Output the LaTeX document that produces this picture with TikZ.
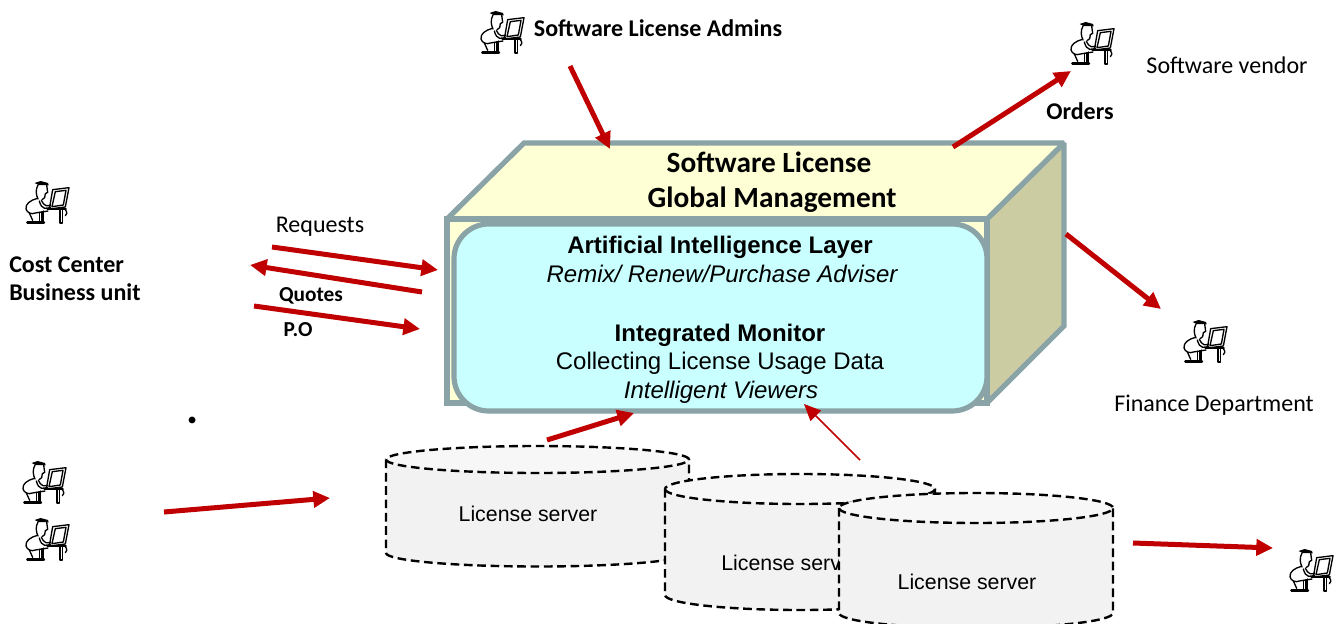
\documentclass[tikz,border=0pt]{standalone}
\usepackage{fontspec}
\setmainfont{Carlito}
\newfontfamily\arialf{Liberation Sans}
\usetikzlibrary{arrows.meta}
\definecolor{arrowred}{HTML}{C00000}
\definecolor{boxline}{HTML}{8AA3A6}
\definecolor{boxcream}{HTML}{FFFFD5}
\definecolor{boxside}{HTML}{CCCCA3}
\definecolor{boxcyan}{HTML}{C9FFFF}
\definecolor{cylbody}{HTML}{F2F2F2}
\definecolor{cyltop}{HTML}{F7F7F7}
\tikzset{
  flow/.style={draw=arrowred,line width=3.75pt,-{Triangle[length=12.5pt,width=12pt]}},
  thinflow/.style={draw=arrowred,line width=1.1pt,-{Triangle[length=12.5pt,width=11pt]}},
  boxface/.style={draw=boxline,line width=3.9pt,line join=miter,miter limit=2},
  cylline/.style={draw=black,line width=1.8pt,dash pattern=on 6.5pt off 3.5pt},
  lab/.style={anchor=base,inner sep=0pt,font=\fontsize{18pt}{18pt}\selectfont},
  labb/.style={lab,font=\fontsize{18pt}{18pt}\selectfont\bfseries},
  labs/.style={lab,font=\fontsize{16pt}{16pt}\selectfont\bfseries},
  labt/.style={lab,font=\fontsize{22pt}{22pt}\selectfont\bfseries},
  labdot/.style={lab,font=\fontsize{34pt}{34pt}\selectfont\bfseries},
  ar/.style={lab,font=\arialf\fontsize{18pt}{18pt}\selectfont},
  arb/.style={lab,font=\arialf\fontsize{18pt}{18pt}\selectfont\bfseries},
  ari/.style={lab,font=\arialf\fontsize{18pt}{18pt}\selectfont\itshape},
  srv/.style={lab,font=\arialf\fontsize{16pt}{16pt}\selectfont},
  person/.pic={
    \begin{scope}[x=.25pt,y=-.25pt,shift={(-95,-100)},line width=1pt,line join=round,line cap=round]
      \fill (58,40) -- (76,34) -- (98,40) -- (100,47) -- (70,46) -- cycle;
      \draw (68,46) .. controls (60,60) and (62,76) .. (68,88);
      \draw (94,46) -- (97,68) -- (90,72) -- (88,84) -- (80,90);
      \draw (66,86) .. controls (45,92) and (30,102) .. (32,118) .. controls (35,130) and (50,135) .. (60,130) -- (98,124);
      \draw (72,94) .. controls (76,108) and (80,114) .. (88,116) -- (106,114);
      \draw (78,92) .. controls (82,100) and (86,106) .. (92,108) -- (106,108);
      \draw (42,130) -- (52,152);
      \draw (72,128) -- (72,158) (80,126) -- (80,158) (85,124) -- (85,158);
      \draw[line width=1.8pt] (36,158) -- (86,158);
      \draw[line width=1.4pt] (96,118) -- (152,118);
      \draw (134,120) -- (134,160) (141,120) -- (141,160) (134,160) -- (141,160);
      \draw (112,60) -- (161,54) -- (150,112) -- (102,118) -- cycle;
      \draw (120,66) -- (152,62) -- (144,106) -- (110,111) -- cycle;
      \draw (150,120) .. controls (156,128) and (156,134) .. (150,138);
    \end{scope}
  }
}
% left, right, centre y of top ellipse, ry, y where sides end
\newcommand{\cylshape}[5]{%
  \pgfmathsetmacro{\rxx}{(#2-#1)/2}%
  \fill[cylbody] (#1,#3) -- (#1,#5) arc[start angle=180,end angle=0,x radius=\rxx,y radius=#4] -- (#2,#3) -- cycle;
  \fill[cyltop] (#1,#3) arc[start angle=180,end angle=-180,x radius=\rxx,y radius=#4];
  \draw[cylline] (#1,#3) -- (#1,#5) arc[start angle=180,end angle=0,x radius=\rxx,y radius=#4] -- (#2,#3);
  \draw[cylline] (#1,#3) arc[start angle=180,end angle=-180,x radius=\rxx,y radius=#4];
}
\begin{document}
\begin{tikzpicture}[x=.75pt,y=-.75pt]
\clip (0,0) rectangle (1335,624);
\fill[white] (0,0) rectangle (1335,624);

% 3D box
\draw[boxface,fill=boxside] (987,219) -- (1064,143) -- (1064,326) -- (987,403) -- cycle;
\draw[boxface,fill=boxcream] (447,219) -- (524,143) -- (1064,143) -- (987,219) -- cycle;
\draw[boxface,fill=boxcream] (447,219) rectangle (987,403);
\draw[boxface,fill=boxcyan,rounded corners=26pt] (454,224) rectangle (987,411);
\node[labt] (title1) at (769,173) {Software License};
\node[labt] (title2) at (772,208) {Global Management};
\node[arb] (ai) at (720,253) {Artificial Intelligence Layer};
\node[ari] (remix) at (722,282) {Remix/ Renew/Purchase Adviser};
\node[arb] (mon) at (720,341) {Integrated Monitor};
\node[ar] (coll) at (720,369) {Collecting License Usage Data};
\node[ari] (view) at (721,398) {Intelligent Viewers};

% cylinders
\cylshape{386}{689}{459.5}{13.5}{553}
\node[srv] (srv1) at (528,521) {License server};
\cylshape{665}{935}{489}{15}{595}
\node[srv,anchor=base west] (srv2) at (721,570) {License server};
\cylshape{839}{1113}{508}{15}{613}
\node[srv] (srv3) at (967,589) {License server};

% people
\pic at (502,33) {person};
\pic at (1092,44) {person};
\pic at (47,203) {person};
\pic at (1205,342) {person};
\pic at (44,483) {person};
\pic at (47,540) {person};
\pic at (1311,571) {person};

% labels
\node[labb] (admins) at (658,37) {Software License Admins};
\node[lab] (vendor) at (1227,74) {Software vendor};
\node[labb] (orders) at (1080,120) {Orders};
\node[lab] (fin) at (1214,411) {Finance Department};
\node[lab] (req) at (320,232.5) {Requests};
\node[labs] (quotes) at (311,301) {Quotes};
\node[labs] (po) at (298,336) {P.O};
\node[labb,anchor=base west] (cc) at (9,272) {Cost Center};
\node[labb,anchor=base west] (bu) at (9,300) {Business unit};
\node[labdot] (dot) at (193,423.5) {.};

% connector ends
\coordinate (a1) at (570,66);   \coordinate (a2) at (610,149);
\coordinate (o1) at (953,147);  \coordinate (o2) at (1071,71);
\coordinate (f1) at (1066,234); \coordinate (f2) at (1161,309);
\coordinate (r1) at (272,247);  \coordinate (r2) at (438,270);
\coordinate (q1) at (422,292);  \coordinate (q2) at (250,265);
\coordinate (p1) at (254,306);  \coordinate (p2) at (420,329);
\coordinate (s1) at (547,440);  \coordinate (s2) at (634,413);
\coordinate (t1) at (860,460);  \coordinate (t2) at (804,404);
\coordinate (l1) at (164,512);  \coordinate (l2) at (330,498);
\coordinate (b1) at (1133,543); \coordinate (b2) at (1273,548);

\draw[flow] (a1) -- (a2);
\draw[flow] (o1) -- (o2);
\draw[flow] (f1) -- (f2);
\draw[flow] (r1) -- (r2);
\draw[flow] (q1) -- (q2);
\draw[flow] (p1) -- (p2);
\draw[flow] (s1) -- (s2);
\draw[thinflow] (t1) -- (t2);
\draw[flow] (l1) -- (l2);
\draw[flow] (b1) -- (b2);
\end{tikzpicture}
\end{document}
